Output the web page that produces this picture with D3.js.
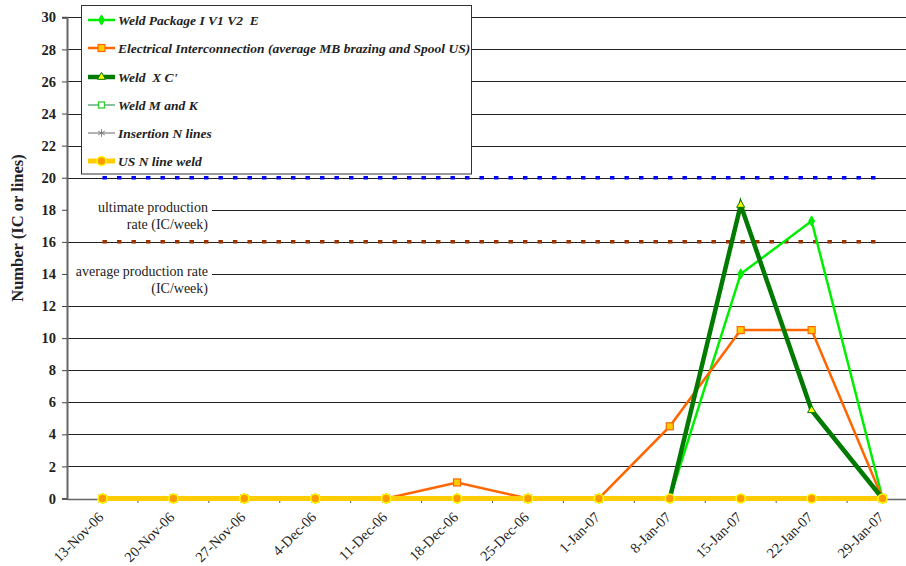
<!DOCTYPE html>
<html><head><meta charset="utf-8">
<script src="https://cdn.jsdelivr.net/npm/d3@7/dist/d3.min.js"></script>
<style>body{margin:0;background:#fff}svg{display:block}text{white-space:pre}</style>
</head><body>
<script>
const categories = ["13-Nov-06","20-Nov-06","27-Nov-06","4-Dec-06","11-Dec-06","18-Dec-06","25-Dec-06","1-Jan-07","8-Jan-07","15-Jan-07","22-Jan-07","29-Jan-07"];
const weldPackage = [0,0,0,0,0,0,0,0,0,14,17.3,0];
const electrical  = [0,0,0,0,0,1,0,0,4.5,10.5,10.5,0];
const weldXC      = [0,0,0,0,0,0,0,0,0,18.3,5.5,0];
const weldMK      = [0,0,0,0,0,0,0,0,0,0,0,0];
const insertionN  = [0,0,0,0,0,0,0,0,0,0,0,0];
const usNLine     = [0,0,0,0,0,0,0,0,0,0,0,0];
const ultimateRate = [20,20,20,20,20,20,20,20,20,20,20,20];
const averageRate  = [16,16,16,16,16,16,16,16,16,16,16,16];
const yTicks = [0,2,4,6,8,10,12,14,16,18,20,22,24,26,28,30];
const legendNames = ["Weld Package I V1 V2  E","Electrical Interconnection (average MB brazing and Spool US)","Weld  X C'","Weld M and K","Insertion N lines","US N line weld"];

const W = 906, H = 566;
const svg = d3.select("body").append("svg").attr("width", W).attr("height", H);
const x = d3.scaleBand().domain(categories).range([67, 918]);
const y = d3.scaleLinear().domain([0, 30]).range([498.5, 17.3]);
const cx = d => x(d) + x.bandwidth() / 2;
const serif = "'Liberation Serif','DejaVu Serif',serif";

// gridlines
const g = svg.append("g");
yTicks.forEach(t => {
  const x0 = (t === 18 || t === 14) ? 212 : 67;
  g.append("line").attr("x1", x0).attr("x2", W).attr("y1", Math.round(y(t)) + 0.5).attr("y2", Math.round(y(t)) + 0.5)
    .attr("stroke", t === 0 ? "#666" : "#222").attr("stroke-width", 1);
});

// y axis
const yAxis = svg.append("g").attr("transform", "translate(67,0)")
  .call(d3.axisLeft(y).tickValues(yTicks).tickSize(5).tickPadding(6));
yAxis.select(".domain").attr("stroke", "#666").attr("stroke-width", 2);
yAxis.selectAll(".tick line").attr("stroke", "#444");
yAxis.selectAll("text").attr("font-family", serif).attr("font-weight", "bold").attr("font-size", 14.5).attr("fill", "#222");

// x axis
const xAxis = svg.append("g").attr("transform", "translate(0,499)")
  .call(d3.axisBottom(x).tickSize(0).tickPadding(0));
xAxis.select(".domain").attr("stroke", "#666").attr("stroke-width", 1.5);
xAxis.selectAll(".tick line").remove();
categories.slice(1).forEach(c => {
  xAxis.append("line").attr("x1", x(c)).attr("x2", x(c)).attr("y1", 0).attr("y2", 4).attr("stroke", "#555");
});
xAxis.selectAll(".tick text")
  .attr("font-family", serif).attr("font-size", 14.5).attr("fill", "#222")
  .attr("text-anchor", "end").attr("dy", 0)
  .attr("transform", "translate(2,19) rotate(-45)");

// y label
svg.append("text").attr("transform", "translate(23,228) rotate(-90)")
  .attr("text-anchor", "middle").attr("font-family", serif).attr("font-weight", "bold").attr("font-size", 16.5)
  .attr("fill", "#222").text("Number (IC or lines)");

// annotations
const ann = [["ultimate production", 212], ["rate (IC/week)", 229], ["average production rate", 276], ["(IC/week)", 293]];
ann.forEach(([t, yy]) => svg.append("text").attr("x", 208).attr("y", yy).attr("text-anchor", "end")
  .attr("font-family", serif).attr("font-size", 14).attr("fill", "#222").text(t));

// reference dotted lines
const line = d3.line().x((d, i) => cx(categories[i])).y(d => y(d));
svg.append("path").attr("d", line(ultimateRate)).attr("fill", "none").attr("stroke", "#0000ff")
  .attr("stroke-width", 3.5).attr("stroke-dasharray", "4.5,10");
svg.append("path").attr("d", line(averageRate)).attr("fill", "none").attr("stroke", "#993300")
  .attr("stroke-width", 3.5).attr("stroke-dasharray", "4.5,10");

// series definitions
const series = [
  {name: legendNames[0], data: weldPackage, color: "#00ee00", width: 2.5, marker: "diamond", mfill: "#00ee00", mstroke: "#00ee00"},
  {name: legendNames[1], data: electrical, color: "#ff6600", width: 2.5, marker: "square", mfill: "#ffcc00", mstroke: "#ff6600"},
  {name: legendNames[2], data: weldXC, color: "#007a00", width: 4.5, marker: "triangle", mfill: "#ffff00", mstroke: "#007a00"},
  {name: legendNames[3], data: weldMK, color: "#339966", width: 1.2, marker: "hsquare", mfill: "#fff", mstroke: "#33cc33"},
  {name: legendNames[4], data: insertionN, color: "#808080", width: 1.2, marker: "star", mfill: "none", mstroke: "#808080"},
  {name: legendNames[5], data: usNLine, color: "#ffcc00", width: 5, marker: "circle", mfill: "#ff9900", mstroke: "#ffff00"}
];

function drawMarker(sel, s, px, py) {
  if (s.marker === "diamond") {
    sel.append("path").attr("d", d3.symbol(d3.symbolDiamond, 30)()).attr("transform", `translate(${px},${py})`)
      .attr("fill", s.mfill).attr("stroke", s.mstroke);
  } else if (s.marker === "square") {
    sel.append("rect").attr("x", px - 3.5).attr("y", py - 3.5).attr("width", 7).attr("height", 7)
      .attr("fill", s.mfill).attr("stroke", s.mstroke).attr("stroke-width", 1.2);
  } else if (s.marker === "hsquare") {
    sel.append("rect").attr("x", px - 3).attr("y", py - 3).attr("width", 6).attr("height", 6)
      .attr("fill", s.mfill).attr("stroke", s.mstroke).attr("stroke-width", 1.3);
  } else if (s.marker === "triangle") {
    sel.append("path").attr("d", d3.symbol(d3.symbolTriangle, 28)()).attr("transform", `translate(${px},${py})`)
      .attr("fill", s.mfill).attr("stroke", s.mstroke).attr("stroke-width", 1);
  } else if (s.marker === "star") {
    sel.append("path").attr("d", d3.symbol(d3.symbolAsterisk, 40)()).attr("transform", `translate(${px},${py})`)
      .attr("fill", "none").attr("stroke", s.mstroke).attr("stroke-width", 1);
  } else if (s.marker === "circle") {
    sel.append("circle").attr("cx", px).attr("cy", py).attr("r", 4.5)
      .attr("fill", s.mfill).attr("stroke", s.mstroke).attr("stroke-width", 1.5);
  }
}

const sg = svg.append("g");
series.forEach(s => {
  sg.append("path").attr("d", line(s.data)).attr("fill", "none").attr("stroke", s.color)
    .attr("stroke-width", s.width).attr("stroke-linejoin", "miter");
  s.data.forEach((v, i) => drawMarker(sg, s, cx(categories[i]), y(v)));
});

// legend
const lg = svg.append("g");
lg.append("rect").attr("x", 81.5).attr("y", 5.5).attr("width", 390).attr("height", 168.5)
  .attr("fill", "#fff").attr("stroke", "#333").attr("stroke-width", 1);
const legY = [20, 48, 77, 105, 133, 161];
series.forEach((s, i) => {
  const ly = legY[i];
  lg.append("line").attr("x1", 88).attr("x2", 115).attr("y1", ly).attr("y2", ly)
    .attr("stroke", s.color).attr("stroke-width", s.width);
  drawMarker(lg, s, 101.5, ly);
  lg.append("text").attr("x", 118).attr("y", ly + 4.5).attr("font-family", serif)
    .attr("font-weight", "bold").attr("font-style", "italic").attr("font-size", 13.5).attr("fill", "#222")
    .attr("xml:space", "preserve").text(s.name);
});
</script>
</body></html>
